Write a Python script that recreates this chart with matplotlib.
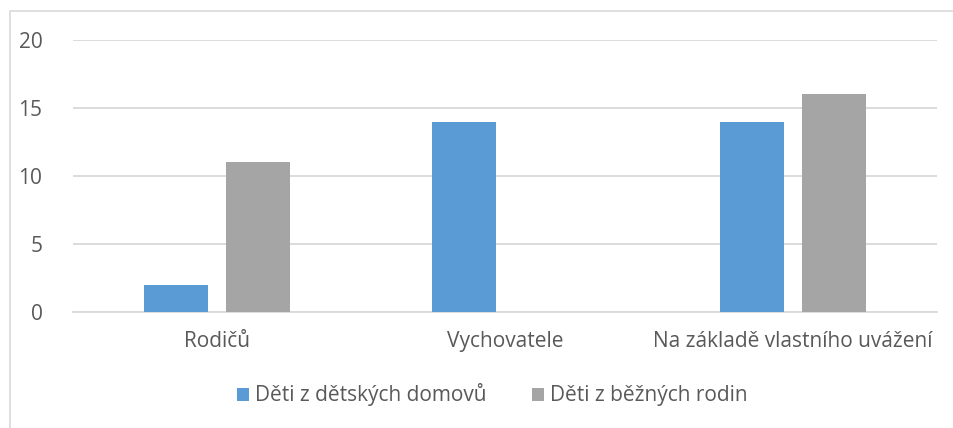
import numpy as np
import matplotlib
matplotlib.use("Agg")
import matplotlib.pyplot as plt
from matplotlib.patches import Rectangle

# Data
categories = ["Rodičů", "Vychovatele", "Na základě vlastního uvážení"]
series_names = ["Děti z dětských domovů", "Děti z běžných rodin"]
domovy = [2, 14, 14]
rodiny = [11, 0, 16]
yticks = [0, 5, 10, 15, 20]

blue = "#5B9BD5"
gray = "#A5A5A5"
text_col = "#595959"
grid_col = "#D9D9D9"

plt.rcParams['font.family'] = ['Open Sans', 'DejaVu Sans']

fig = plt.figure(figsize=(9.54, 4.28), dpi=100)
ax = fig.add_axes([0.0765, 0.271, 0.9057, 0.6355])

# chart frame
fig.patches.append(Rectangle((10 / 954, -0.1), 1.2, 1 - 11 / 428 + 0.1,
                             transform=fig.transFigure, fill=False,
                             edgecolor=grid_col, linewidth=1.2))

x = np.arange(len(categories))
width = 0.222
offset = 0.142
ax.bar(x - offset, domovy, width, color=blue, label=series_names[0], zorder=3)
ax.bar(x + offset, rodiny, width, color=gray, label=series_names[1], zorder=3)

ax.set_xlim(-0.5, len(categories) - 0.5)
ax.set_ylim(0, 20)
ax.set_yticks(yticks)
ax.set_xticks(x)
ax.set_xticklabels(categories)
ax.yaxis.grid(True, color=grid_col, linewidth=1.3, zorder=0)
ax.set_axisbelow(True)
for s in ["top", "right", "left"]:
    ax.spines[s].set_visible(False)
ax.spines["bottom"].set_color(grid_col)
ax.spines["bottom"].set_linewidth(1.3)
ax.tick_params(axis='both', length=0, labelsize=15, colors=text_col)
ax.tick_params(axis='y', pad=22)
ax.tick_params(axis='x', pad=14)

ax.legend(loc='center', bbox_to_anchor=(0.485, (1 - 395 / 428 - 0.271) / 0.6355),
          ncol=2, frameon=False, fontsize=15, labelcolor=text_col,
          handlelength=0.6, handleheight=0.6, handletextpad=0.25, columnspacing=2.2)

fig.savefig("out.png", dpi=100)
